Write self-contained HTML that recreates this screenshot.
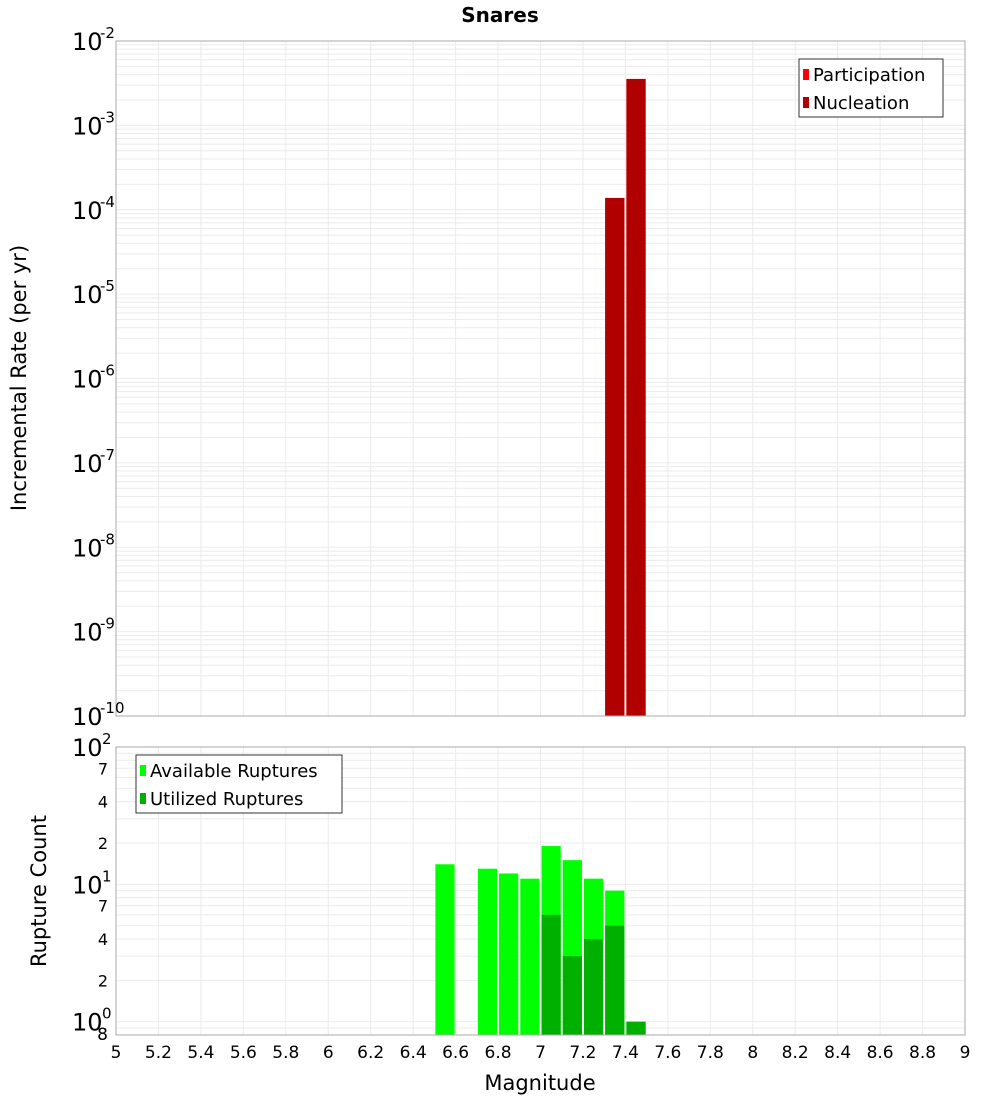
<!DOCTYPE html>
<html><head><meta charset="utf-8"><style>
body{margin:0;background:#fff;font-family:"DejaVu Sans","Liberation Sans",sans-serif}
</style></head><body>
<svg id="c" width="1000" height="1100" xmlns="http://www.w3.org/2000/svg" font-family="DejaVu Sans, Liberation Sans, sans-serif">
<text x="500" y="22" text-anchor="middle" font-size="20" font-weight="bold">Snares</text>
<g id="g"></g>
</svg>
<script>
const xTicks=[5,5.2,5.4,5.6,5.8,6,6.2,6.4,6.6,6.8,7,7.2,7.4,7.6,7.8,8,8.2,8.4,8.6,8.8,9];
const topExps=[-10,-9,-8,-7,-6,-5,-4,-3,-2];
const rateMags=[7.3,7.4];
const nucleationRates=[1.38e-4,3.55e-3];
const participationRates=[1.38e-4,3.55e-3];
const countMags=[6.5,6.7,6.8,6.9,7.0,7.1,7.2,7.3,7.4];
const availableCounts=[14,13,12,11,19,15,11,9,1];
const utilizedCounts=[0,0,0,0,6,3,4,5,1];
const botTicks=[1,2,4,7,10,20,40,70,100];

const NS="http://www.w3.org/2000/svg";
const g=document.getElementById('g');
function el(t,a,txt){const e=document.createElementNS(NS,t);for(const k in a)e.setAttribute(k,a[k]);if(txt!==undefined)e.textContent=txt;g.appendChild(e);return e;}
const X0=116,X1=965;
const xs=v=>X0+(v-5)/4*(X1-X0);
const T0=41,T1=716;
const ty=v=>T1-(Math.log10(v)+10)/8*(T1-T0);
const B0=747,B1=1035,bMin=0.8,bMax=100;
const by=v=>B1-(Math.log10(v)-Math.log10(bMin))/(Math.log10(bMax)-Math.log10(bMin))*(B1-B0);

// top grid
for(let e=-10;e<-2;e++)for(let m=1;m<10;m++){const y=ty(m*Math.pow(10,e));const l=el('line',{x1:X0,x2:X1,y1:y,y2:y,stroke:'#ebebeb','stroke-width':1});

}
for(let m=1;m<10;m++){const v=m*0.8;if(v<1)continue;const y=by(v);}
[0.8,0.9,1,2,3,4,5,6,7,8,9,10,20,30,40,50,60,70,80,90,100].forEach(v=>{const y=by(v);const l=el('line',{x1:X0,x2:X1,y1:y,y2:y,stroke:'#ebebeb','stroke-width':1});

});
xTicks.forEach(v=>{const x=xs(v);
const a=el('line',{x1:x,x2:x,y1:T0,y2:T1,stroke:'#ebebeb'});


const b=el('line',{x1:x,x2:x,y1:B0,y2:B1,stroke:'#ebebeb'});


const t=el('text',{x:x,y:1058,'text-anchor':'middle','font-size':17},String(v));

});

// top bars
rateMags.forEach((m,i)=>{const x=xs(m)+1,w=xs(m+0.1)-xs(m)-2;
const p=el('rect',{x:x,y:ty(participationRates[i]),width:w,height:T1-ty(participationRates[i]),fill:'#ff0000'});


const n=el('rect',{x:x,y:ty(nucleationRates[i]),width:w,height:T1-ty(nucleationRates[i]),fill:'#b00000'});

});
// bottom bars
countMags.forEach((m,i)=>{const x=xs(m)+1,w=xs(m+0.1)-xs(m)-2;
const a=el('rect',{x:x,y:by(availableCounts[i]),width:w,height:B1-by(availableCounts[i]),fill:'#00ff00'});


if(utilizedCounts[i]>0){const u=el('rect',{x:x,y:by(utilizedCounts[i]),width:w,height:B1-by(utilizedCounts[i]),fill:'#00b000'});

}});

// frames
const f1=el('rect',{x:X0,y:T0,width:X1-X0,height:T1-T0,fill:'none',stroke:'#aaa'});


const f2=el('rect',{x:X0,y:B0,width:X1-X0,height:B1-B0,fill:'none',stroke:'#aaa'});



// top y labels
topExps.forEach(e=>{const y=ty(Math.pow(10,e));
const t=el('text',{x:72,y:y+9,'font-size':24},'10');


const s=el('text',{x:100,y:y-3,'font-size':15},String(e));

});
// bottom y labels
botTicks.forEach(v=>{const y=by(v);const e=Math.log10(v);
if(Number.isInteger(e)){const t=el('text',{x:72,y:y+9,'font-size':24},'10');


const s=el('text',{x:102,y:y-3,'font-size':15},String(e));

}
else{const t=el('text',{x:108,y:y+6,'font-size':16,'text-anchor':'end'},String(v<10?v:v/10));

}});
const e8=el('text',{x:108,y:1040,'font-size':17,'text-anchor':'end'},'8');



// axis titles
const yt=el('text',{x:0,y:0,'font-size':21,'text-anchor':'middle',transform:'translate(26,378) rotate(-90)'},'Incremental Rate (per yr)');


const yb=el('text',{x:0,y:0,'font-size':21,'text-anchor':'middle',transform:'translate(46,891) rotate(-90)'},'Rupture Count');


const xt=el('text',{x:540,y:1090,'font-size':21,'text-anchor':'middle'},'Magnitude');



// legends
function legend(x,y,w,items,name){const b=el('rect',{x:x,y:y,width:w,height:58,fill:'#fff',stroke:'#333'});


items.forEach((it,i)=>{const r=el('rect',{x:x+4,y:y+10+i*28,width:6,height:11,fill:it[1]});


const t=el('text',{x:x+14,y:y+22+i*28,'font-size':18},it[0]);

});}
legend(799,59,144,[['Participation','#ff0000'],['Nucleation','#b00000']],'top-legend');
legend(136,755,206,[['Available Ruptures','#00ff00'],['Utilized Ruptures','#00b000']],'bottom-legend');
</script>
</body></html>
